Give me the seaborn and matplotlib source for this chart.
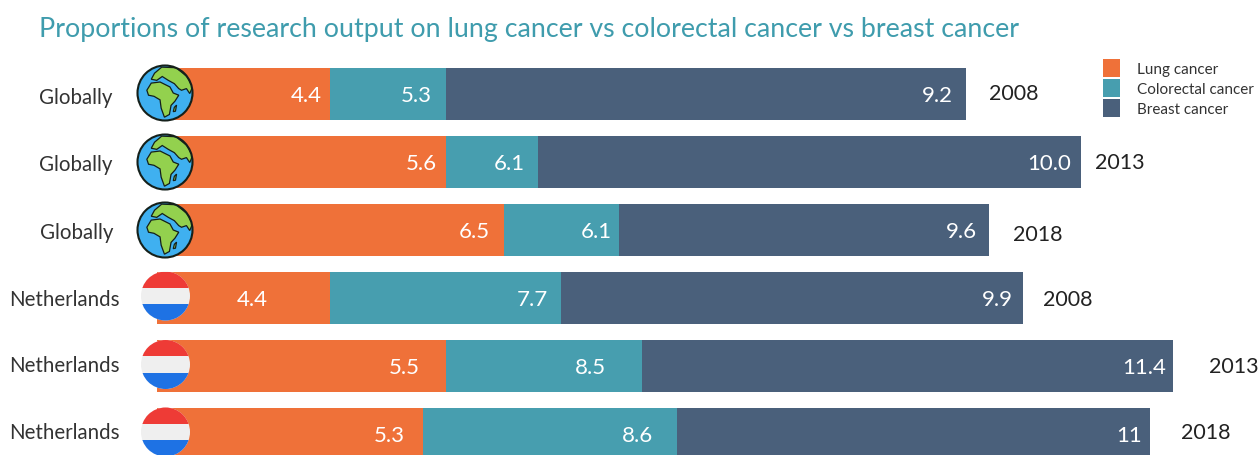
# -*- coding: utf-8 -*-
"""Stacked bars: research output on lung, colorectal and breast cancer."""

import matplotlib.pyplot as plt
from matplotlib.patches import Circle, Polygon, Rectangle
import pandas as pd
import seaborn as sns

rows = ["Globally", "Globally", "Globally", "Netherlands", "Netherlands", "Netherlands"]
years = ["2008", "2013", "2018", "2008", "2013", "2018"]

# printed labels of the segments
lung_labels = ["4.4", "5.6", "6.5", "4.4", "5.5", "5.3"]
colorectal_labels = ["5.3", "6.1", "6.1", "7.7", "8.5", "8.6"]
breast_labels = ["9.2", "10.0", "9.6", "9.9", "11.4", "11"]

# lengths as drawn: in the picture they do not follow the printed labels
lung_drawn = [1.5, 2.5, 3.0, 1.5, 2.5, 2.3]
colorectal_drawn = [1.0, 0.8, 1.0, 2.0, 1.7, 2.2]
breast_drawn = [4.5, 4.7, 3.2, 4.0, 4.6, 4.1]

ORANGE = "#EF7139"
TEAL = "#479EAF"
NAVY = "#4A607B"
TEXT = "#333333"
FONT = "Lato"
W, H = 1259, 456
UNIT_PX = 115.5  # pixels per drawn unit
X0_PX = 157
ROW_PX = 68
Y0_PX = 94.7

sns.set_theme(style="white")
plt.rcParams["font.family"] = [FONT, "DejaVu Sans"]

df = pd.DataFrame(
    {
        "row": [f"{r} {y}" for r, y in zip(rows, years)],
        "lung": lung_drawn,
        "colorectal": colorectal_drawn,
        "breast": breast_drawn,
    }
)
df["end_lung"] = df["lung"]
df["end_colorectal"] = df["end_lung"] + df["colorectal"]
df["end_breast"] = df["end_colorectal"] + df["breast"]

fig = plt.figure(figsize=(W / 100, H / 100), dpi=100, facecolor="white")
ax = fig.add_axes([0, 0, 1, 1])

# longest first, each shorter bar is painted over the one before
for col, color, name in [
    ("end_breast", NAVY, "Breast cancer"),
    ("end_colorectal", TEAL, "Colorectal cancer"),
    ("end_lung", ORANGE, "Lung cancer"),
]:
    sns.barplot(
        data=df, y="row", x=col, orient="h", color=color, saturation=1,
        width=0.77, linewidth=0, label=name, ax=ax,
    )

ax.set_xlim(-X0_PX / UNIT_PX, (W - X0_PX) / UNIT_PX)
ax.set_ylim((H - Y0_PX) / ROW_PX, -Y0_PX / ROW_PX)
ax.axis("off")

# value labels, right edge set back from the end of their segment
lung_pad = [8, 9, 14, 62, 26, 18]
colorectal_pad = [14, 13, 7, 13, 36, 24]
breast_pad = [13, 10, 12, 10, 7, 8]
for col, labels, pads in [
    ("end_lung", lung_labels, lung_pad),
    ("end_colorectal", colorectal_labels, colorectal_pad),
    ("end_breast", breast_labels, breast_pad),
]:
    for i, (label, pad) in enumerate(zip(labels, pads)):
        ax.annotate(
            label, xy=(df[col][i], i), xytext=(-pad, -1), textcoords="offset pixels",
            ha="right", va="center", color="white", fontsize=16,
        )

# year beside each bar
year_gap = [23, 14, 24, 20, 36, 31]
year_dy = [-1, 0, 4, 1, 0, -2]
for i, (year, gap, dy) in enumerate(zip(years, year_gap, year_dy)):
    ax.annotate(
        year, xy=(df["end_breast"][i], i), xytext=(gap, -dy), textcoords="offset pixels",
        ha="left", va="center", color="#222222", fontsize=15.5,
    )

# legend in the order of the stack
handles, labels = ax.get_legend_handles_labels()
ax.legend(
    handles[::-1], labels[::-1], loc="upper left", bbox_to_anchor=(1097 / W, 1 - 54 / H),
    bbox_transform=fig.transFigure, frameon=False, fontsize=11, labelcolor=TEXT,
    handlelength=1.1, handleheight=1.45, handletextpad=1.15, labelspacing=0.12,
    borderpad=0.4, borderaxespad=0,
)

# title, row names and icons live in a pixel overlay so the circles stay round
over = fig.add_axes([0, 0, 1, 1])
over.set_xlim(0, W)
over.set_ylim(H, 0)
over.axis("off")
over.patch.set_alpha(0)

over.text(39, 29, "Proportions of research output on lung cancer vs colorectal cancer vs breast cancer",
          color="#3F9CAD", fontsize=19.3, ha="left", va="center")

row_x = [39, 39, 40, 9, 9, 9]
row_y = [98, 165, 233, 300, 366, 433]
for name, x, y in zip(rows, row_x, row_y):
    over.text(x, y, name, color=TEXT, fontsize=14.8, ha="left", va="center")

AFRICA = [(-0.66, 0.10), (-0.50, 0.36), (-0.18, 0.40), (0.02, 0.30), (0.18, 0.22), (0.30, 0.0),
          (0.50, -0.08), (0.36, -0.30), (0.22, -0.45), (0.16, -0.78), (-0.02, -0.88), (-0.14, -0.55),
          (-0.18, -0.25), (-0.40, -0.12), (-0.60, -0.08)]
EURASIA = [(-0.50, 0.50), (-0.38, 0.72), (-0.12, 0.94), (0.40, 0.92), (0.80, 0.60), (1.0, 0.22),
           (0.90, -0.02), (0.78, 0.16), (0.60, 0.10), (0.50, 0.16), (0.34, 0.34), (0.12, 0.46),
           (-0.10, 0.60), (-0.30, 0.46)]
MADAGASCAR = [(0.34, -0.52), (0.42, -0.44), (0.38, -0.66), (0.30, -0.68)]


def draw_globe(cx, cy, r=27.5):
    disc = Circle((cx, cy), r, facecolor="#3FB0F0", edgecolor="none", zorder=3)
    over.add_patch(disc)
    for shape in (AFRICA, EURASIA, MADAGASCAR):
        land = Polygon([(cx + px * r, cy - py * r) for px, py in shape], closed=True,
                       facecolor="#93D14E", edgecolor="#15201A", lw=0.9, zorder=4)
        over.add_patch(land)
        land.set_clip_path(disc)
    over.add_patch(Circle((cx, cy), r, facecolor="none", edgecolor="#15201A", lw=1.5, zorder=5))


def draw_flag(cx, cy, r=24.5):
    disc = Circle((cx, cy), r, facecolor="#EFEFEF", edgecolor="none", zorder=3)
    over.add_patch(disc)
    third = 2 * r * 0.33
    for top, color in [(cy - r, "#EE3B36"), (cy + r - third, "#1E72E4")]:
        band = Rectangle((cx - r, top), 2 * r, third, facecolor=color, edgecolor="none", zorder=4)
        over.add_patch(band)
        band.set_clip_path(disc)


for cy in [94, 163, 231]:
    draw_globe(165, cy)
for cy in [297, 365.5, 433]:
    draw_flag(165.5, cy)

fig.savefig("out.png", dpi=100, facecolor="white")
